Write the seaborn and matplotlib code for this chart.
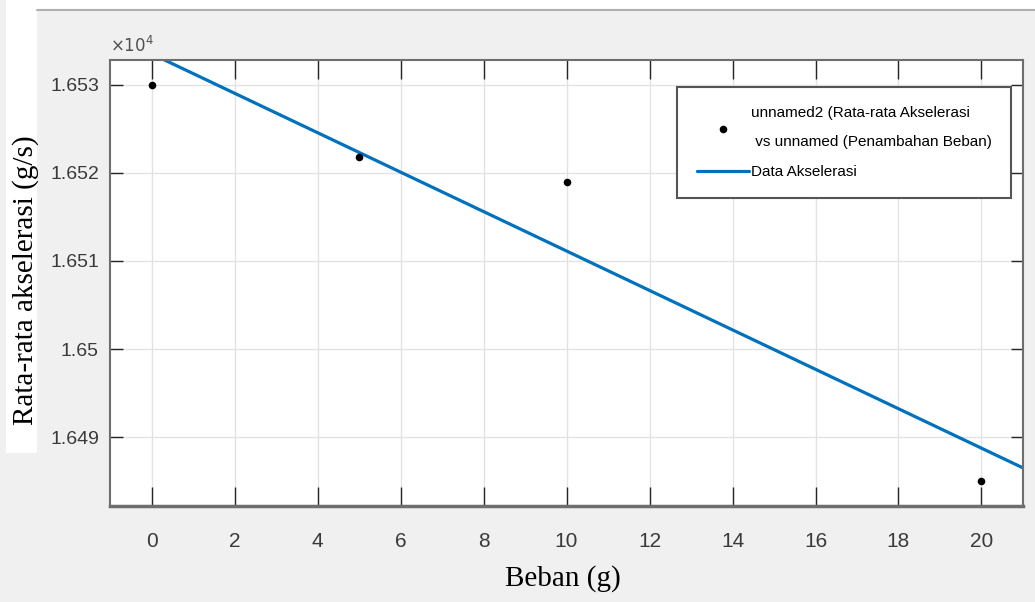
import matplotlib as mpl
import numpy as np
import pandas
import seaborn as sns
from matplotlib import pyplot
from matplotlib.patches import Rectangle
from matplotlib.lines import Line2D

# %% -- data ---------------------------------------------------------------- #
beban = [0, 5, 10, 20]                          # Beban (g)
akselerasi = [16530.0, 16521.8, 16518.9, 16485.0]  # rata-rata akselerasi
xticks = [0, 2, 4, 6, 8, 10, 12, 14, 16, 18, 20]
yticks = [16490, 16500, 16510, 16520, 16530]

scatter_label = 'unnamed2 (Rata-rata Akselerasi\n vs unnamed (Penambahan Beban)'
line_label = 'Data Akselerasi'

data = pandas.DataFrame({'beban': beban, 'akselerasi': akselerasi})

# %% -- style --------------------------------------------------------------- #
sns.set_style("white")
sans = ['Liberation Sans', 'DejaVu Sans']
serif = ['Liberation Serif', 'DejaVu Serif']
mpl.rcParams['font.family'] = sans
tick_col = '#3a3a3a'

# %% -- figure -------------------------------------------------------------- #
f = pyplot.figure(figsize=(10.35, 6.02), dpi=100, facecolor='#f0f0f0')

# white strips pasted round the matlab figure
f.patches.append(Rectangle((0.006, 0.2475), 0.030, 0.7525, transform=f.transFigure,
                           facecolor='white', edgecolor='none', zorder=0))
f.patches.append(Rectangle((0.036, 0.983), 0.964, 0.017, transform=f.transFigure,
                           facecolor='white', edgecolor='none', zorder=0))
f.lines.append(Line2D([0.036, 1.0], [0.983, 0.983], transform=f.transFigure,
                      color='#b0b0b0', linewidth=1.5))

ax = f.add_axes([0.1063, 0.1595, 0.8821, 0.7409])
ax.set_facecolor('white')
ax.set_xlim(-1, 21)
ax.set_ylim(16482.2, 16532.8)

# fitted line (library computes the fit) + data points
sns.regplot(data=data, x='beban', y='akselerasi', ax=ax, scatter=False, ci=None,
            truncate=False, color='#0072BD', label=line_label,
            line_kws={'linewidth': 2.3, 'zorder': 2})
sns.scatterplot(data=data, x='beban', y='akselerasi', ax=ax, color='black',
                s=30, edgecolor='black', linewidth=0, label=scatter_label,
                zorder=3)

ax.set_xlim(-1, 21)
ax.set_ylim(16482.2, 16532.8)

# aesthetics
ax.set_xticks(xticks)
ax.set_yticks(yticks)
ax.set_xticklabels([str(t) for t in xticks], fontsize=15, color=tick_col)
ax.set_yticklabels(['%g' % (t / 1e4) for t in yticks], fontsize=14, color=tick_col)
ax.tick_params(axis='x', direction='in', top=True, bottom=True, length=14,
               width=1, color='#262626', pad=19)
ax.tick_params(axis='y', direction='in', left=True, right=True, length=9,
               width=1, color='#262626', pad=8)
ax.grid(True, color='#e3e3e3', linewidth=1)
ax.set_axisbelow(True)
for side in ['top', 'left', 'right']:
    ax.spines[side].set_color('#6e6e6e')
    ax.spines[side].set_linewidth(1.5)
ax.spines['bottom'].set_color('#6e6e6e')
ax.spines['bottom'].set_linewidth(2.5)

ax.set_xlabel('')
ax.set_ylabel('')
f.text(0.544, 0.027, 'Beban (g)', family=serif, fontsize=21, color='black',
       ha='center', va='baseline')
f.text(0.025, 0.535, 'Rata-rata akselerasi (g/s)', family=serif, fontsize=21,
       color='black', ha='center', va='center', rotation=90)

# exponent label
ax.text(0.0, 1.012, r'$\times10^{4}$', transform=ax.transAxes, fontsize=12,
        color='#505050', ha='left', va='bottom')

# legend: scatter first, then line
handles, labels = ax.get_legend_handles_labels()
order = [labels.index(scatter_label), labels.index(line_label)]
leg = ax.legend([handles[i] for i in order], [labels[i] for i in order],
                loc='upper right', bbox_to_anchor=(0.995, 0.957), fontsize=11,
                frameon=True, fancybox=False, framealpha=1, edgecolor='#555555',
                handlelength=3.4, handletextpad=0.15, labelspacing=1.05,
                borderpad=1.25, borderaxespad=0.5)
leg.get_frame().set_linewidth(1.5)
leg.get_texts()[0].set_linespacing(2.4)
for t in leg.get_texts():
    t.set_color('black')

pyplot.savefig('out.png', dpi=100, facecolor=f.get_facecolor())
